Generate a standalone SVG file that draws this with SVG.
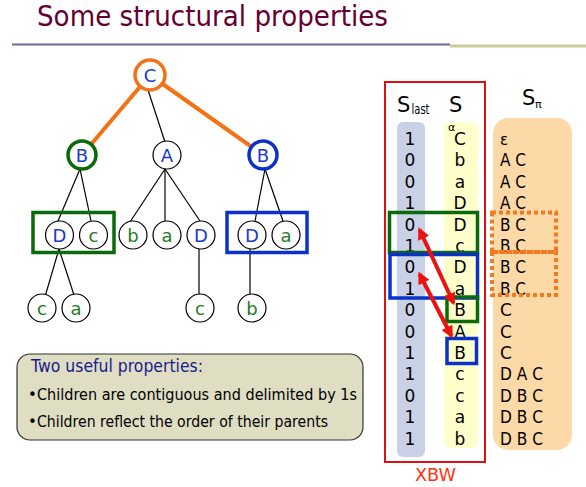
<svg xmlns="http://www.w3.org/2000/svg" width="586" height="487" viewBox="0 0 586 487">
<defs>
<style>
text{font-family:"DejaVu Sans","Liberation Sans",sans-serif}
.edge{stroke:#000;stroke-width:1.2;fill:none}
.oedge{stroke:#f47216;stroke-width:4;fill:none}
.node{fill:#fff;stroke:#000;stroke-width:1.2}
.n-or{stroke:#f47216;stroke-width:3.5}
.n-gr{stroke:#0a6a0a;stroke-width:3.5}
.n-bl{stroke:#0a32c8;stroke-width:3.5}
.lbl{font-size:18px;text-anchor:middle}
.int{fill:#1a3acc}
.leaf{fill:#1e7d1e}
.col{font-size:17px;fill:#000}
.mid{text-anchor:middle}
.gbox{fill:none;stroke:#0a6a0a;stroke-width:3.5}
.bbox{fill:none;stroke:#0a32c8;stroke-width:3.5}
.obox{fill:none;stroke:#f47a20;stroke-width:4;stroke-dasharray:4 3}
.arr{stroke:#ee1111;stroke-width:4;fill:none}
</style>
<marker id="ah" viewBox="0 0 10 10" refX="8" refY="5" markerWidth="3.2" markerHeight="3" orient="auto-start-reverse" markerUnits="strokeWidth">
<path d="M0,0 L10,5 L0,10 z" fill="#ee1111"/>
</marker>
</defs>
<rect width="586" height="487" fill="#fff"/>
<text x="37" y="26" font-size="28" fill="#660033" textLength="351" lengthAdjust="spacingAndGlyphs">Some structural properties</text>
<line x1="12" y1="44.5" x2="450" y2="44.5" stroke="#6b6b99" stroke-width="1.8"/>
<line x1="450" y1="46" x2="586" y2="46" stroke="#cccc99" stroke-width="3"/>
<g id="connectors">
<line class="oedge" x1="150" y1="75" x2="82" y2="155"/>
<line class="oedge" x1="150" y1="75" x2="263" y2="155"/>
<line class="edge" x1="148" y1="90" x2="165" y2="142"/>
<line class="edge" x1="80" y1="169" x2="58" y2="221"/>
<line class="edge" x1="80" y1="169" x2="91" y2="221"/>
<line class="edge" x1="165" y1="169" x2="130" y2="222"/>
<line class="edge" x1="165" y1="169" x2="165" y2="221"/>
<line class="edge" x1="165" y1="169" x2="200" y2="221"/>
<line class="edge" x1="265" y1="169" x2="255" y2="221"/>
<line class="edge" x1="265" y1="169" x2="283" y2="221"/>
<line class="edge" x1="59" y1="249" x2="45.5" y2="295"/>
<line class="edge" x1="59" y1="249" x2="74" y2="295"/>
<line class="edge" x1="199" y1="249" x2="199" y2="294"/>
<line class="edge" x1="250" y1="249" x2="250" y2="294"/>
</g>
<g id="box-green-tree"><rect class="gbox" x="33" y="212.5" width="81" height="40"/></g>
<g id="box-blue-tree"><rect class="bbox" x="227" y="212.5" width="80" height="40"/></g>
<g id="n-C"><circle class="node n-or" cx="150" cy="75" r="15"/><text class="lbl int" x="150" y="81.5">C</text></g>
<g id="n-B1"><circle class="node n-gr" cx="82" cy="155" r="14"/><text class="lbl int" x="82" y="161.5">B</text></g>
<g id="n-A"><circle class="node" cx="167" cy="155" r="14"/><text class="lbl int" x="167" y="161.5">A</text></g>
<g id="n-B2"><circle class="node n-bl" cx="263" cy="155" r="14"/><text class="lbl int" x="263" y="161.5">B</text></g>
<g id="n-D1"><circle class="node" cx="59.5" cy="235" r="14"/><text class="lbl int" x="59.5" y="241.5">D</text></g>
<g id="n-c1"><circle class="node" cx="93.5" cy="235" r="14"/><text class="lbl leaf" x="93.5" y="241.5">c</text></g>
<g id="n-b1"><circle class="node" cx="133" cy="235" r="14"/><text class="lbl leaf" x="133" y="241.5">b</text></g>
<g id="n-a1"><circle class="node" cx="167" cy="235" r="14"/><text class="lbl leaf" x="167" y="241.5">a</text></g>
<g id="n-D2"><circle class="node" cx="201" cy="235" r="14"/><text class="lbl int" x="201" y="241.5">D</text></g>
<g id="n-D3"><circle class="node" cx="252" cy="235" r="14"/><text class="lbl int" x="252" y="241.5">D</text></g>
<g id="n-a2"><circle class="node" cx="286" cy="235" r="14"/><text class="lbl leaf" x="286" y="241.5">a</text></g>
<g id="n-c2"><circle class="node" cx="42" cy="308" r="14"/><text class="lbl leaf" x="42" y="314.5">c</text></g>
<g id="n-a3"><circle class="node" cx="76" cy="308" r="14"/><text class="lbl leaf" x="76" y="314.5">a</text></g>
<g id="n-c3"><circle class="node" cx="200" cy="308" r="14"/><text class="lbl leaf" x="200" y="314.5">c</text></g>
<g id="n-b2"><circle class="node" cx="252" cy="308" r="14"/><text class="lbl leaf" x="252" y="314.5">b</text></g>

<g id="note">
<rect x="17" y="354" width="346" height="86" rx="13" fill="#dfdec3" stroke="#333" stroke-width="1.2"/>
<text x="31" y="372" font-size="17" fill="#1a1a8c" textLength="172" lengthAdjust="spacingAndGlyphs">Two useful properties:</text>
<text x="28" y="400" font-size="15" fill="#000">•</text>
<text x="37" y="400" font-size="15" fill="#000" textLength="320" lengthAdjust="spacingAndGlyphs">Children are contiguous and delimited by 1s</text>
<text x="28" y="427" font-size="15" fill="#000">•</text>
<text x="37" y="427" font-size="15" fill="#000" textLength="291" lengthAdjust="spacingAndGlyphs">Children reflect the order of their parents</text>
</g>

<g id="xbw">
<rect x="385" y="82" width="100" height="380" fill="none" stroke="#dd1111" stroke-width="2"/>
<text x="397" y="111.5" font-size="21">S</text><text x="411.5" y="114" font-size="14" textLength="18" lengthAdjust="spacingAndGlyphs">last</text>
<text x="449" y="111.5" font-size="21">S</text>
<rect x="397" y="122" width="28" height="335" rx="6" fill="#c9d1e6"/>
<rect x="444" y="122" width="34" height="326" rx="6" fill="#ffffcc"/>
<g class="col mid">
<text x="410" y="145">1</text>
<text x="410" y="166.4">0</text>
<text x="410" y="187.8">0</text>
<text x="410" y="209.2">1</text>
<text x="410" y="230.6">0</text>
<text x="410" y="252">1</text>
<text x="410" y="273.4">0</text>
<text x="410" y="294.8">1</text>
<text x="410" y="316.2">0</text>
<text x="410" y="337.6">0</text>
<text x="410" y="359">1</text>
<text x="410" y="380.4">1</text>
<text x="410" y="401.8">0</text>
<text x="410" y="423.2">1</text>
<text x="410" y="444.6">1</text>
</g>
<text x="448" y="131" font-size="11">α</text>
<g class="col mid">
<text x="460" y="145">C</text>
<text x="460" y="166.4">b</text>
<text x="460" y="187.8">a</text>
<text x="460" y="209.2">D</text>
<text x="460" y="230.6">D</text>
<text x="460" y="252">c</text>
<text x="460" y="273.4">D</text>
<text x="460" y="294.8">a</text>
<text x="460" y="316.2">B</text>
<text x="460" y="337.6">A</text>
<text x="460" y="359">B</text>
<text x="460" y="380.4">c</text>
<text x="460" y="401.8">c</text>
<text x="460" y="423.2">a</text>
<text x="460" y="444.6">b</text>
</g>
<text x="415" y="481" font-size="18" fill="#ff3311" textLength="41" lengthAdjust="spacingAndGlyphs">XBW</text>
</g>

<g id="spi">
<text x="522" y="105" font-size="21">S</text><text x="535" y="108" font-size="11">π</text>
<rect x="493" y="118" width="79" height="332" rx="15" fill="#fdd9a8"/>
<g class="col">
<text x="500" y="145" font-size="15">ε</text>
<text x="500" y="166.4" textLength="26" lengthAdjust="spacingAndGlyphs">A C</text>
<text x="500" y="187.8" textLength="26" lengthAdjust="spacingAndGlyphs">A C</text>
<text x="500" y="209.2" textLength="26" lengthAdjust="spacingAndGlyphs">A C</text>
<text x="500" y="230.6" textLength="26" lengthAdjust="spacingAndGlyphs">B C</text>
<text x="500" y="252" textLength="26" lengthAdjust="spacingAndGlyphs">B C</text>
<text x="500" y="273.4" textLength="26" lengthAdjust="spacingAndGlyphs">B C</text>
<text x="500" y="294.8" textLength="26" lengthAdjust="spacingAndGlyphs">B C</text>
<text x="500" y="316.2">C</text>
<text x="500" y="337.6">C</text>
<text x="500" y="359">C</text>
<text x="500" y="380.4" textLength="43" lengthAdjust="spacingAndGlyphs">D A C</text>
<text x="500" y="401.8" textLength="43" lengthAdjust="spacingAndGlyphs">D B C</text>
<text x="500" y="423.2" textLength="43" lengthAdjust="spacingAndGlyphs">D B C</text>
<text x="500" y="444.6" textLength="43" lengthAdjust="spacingAndGlyphs">D B C</text>
</g>
<rect class="obox" x="492" y="212.5" width="64" height="39.5"/>
<rect class="obox" x="492" y="252" width="64" height="43"/>
</g>

<g id="highlights">
<rect class="gbox" x="389.5" y="212.5" width="88" height="40"/>
<rect class="bbox" x="390" y="254.5" width="87.5" height="43.5"/>
<rect class="gbox" x="447" y="297" width="30.5" height="24.5"/>
<rect class="bbox" x="447" y="338.5" width="29.5" height="25"/>
</g>
<g id="arrows">
<line class="arr" x1="419.5" y1="229.5" x2="453.5" y2="303" marker-start="url(#ah)" marker-end="url(#ah)"/>
<line class="arr" x1="419.5" y1="274" x2="451.5" y2="336" marker-start="url(#ah)" marker-end="url(#ah)"/>
</g>
</svg>
